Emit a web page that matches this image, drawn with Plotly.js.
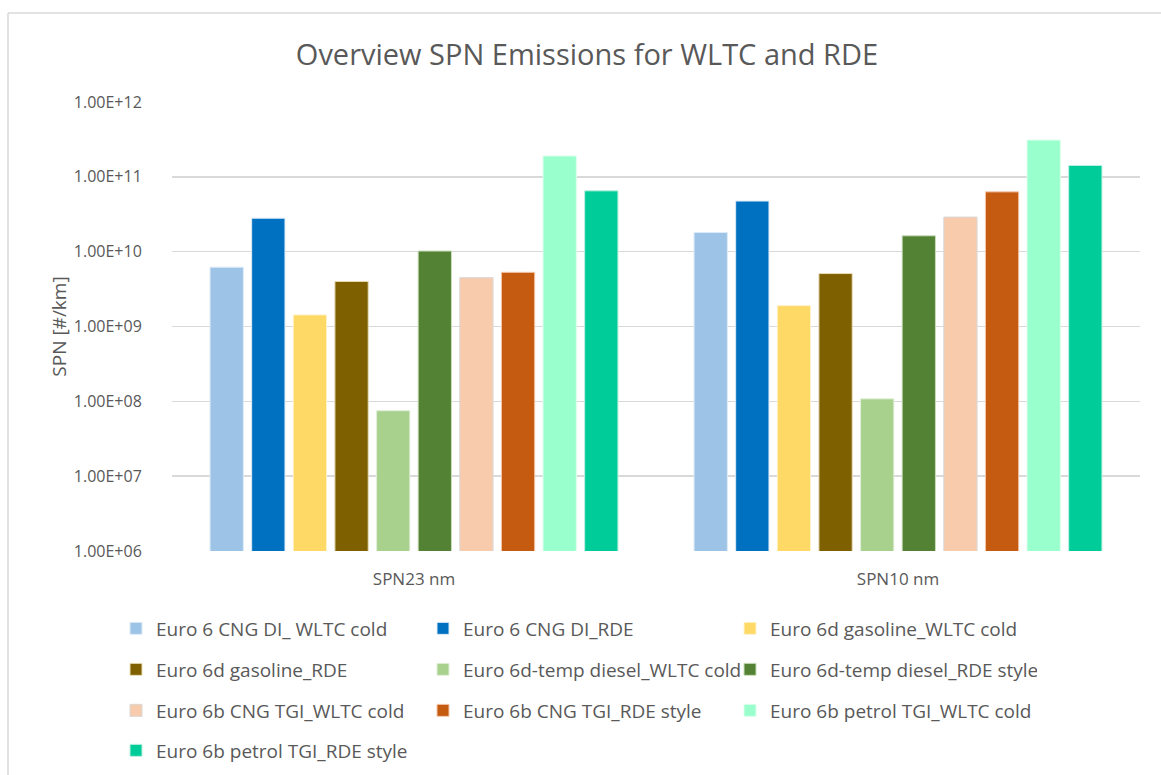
<!DOCTYPE html>
<html>
<head>
<meta charset="utf-8">
<script src="https://cdn.plot.ly/plotly-3.0.1.min.js"></script>
<style>html,body{margin:0;padding:0;background:#fff;}#chart{width:1161px;height:775px;}</style>
</head>
<body>
<div id="chart"></div>
<script>
const categories = ["SPN23 nm", "SPN10 nm"];
const seriesNames = [
  "Euro 6 CNG DI_ WLTC cold",
  "Euro 6 CNG DI_RDE",
  "Euro 6d gasoline_WLTC cold",
  "Euro 6d gasoline_RDE",
  "Euro 6d-temp diesel_WLTC cold",
  "Euro 6d-temp diesel_RDE style",
  "Euro 6b CNG TGI_WLTC cold",
  "Euro 6b CNG TGI_RDE style",
  "Euro 6b petrol TGI_WLTC cold",
  "Euro 6b petrol TGI_RDE style"
];
const cngDiWltc      = [6.2e9, 1.8e10];
const cngDiRde       = [2.8e10, 4.75e10];
const gasolineWltc   = [1.43e9, 1.9e9];
const gasolineRde    = [4.0e9, 5.1e9];
const dieselWltc     = [7.5e7, 1.08e8];
const dieselRde      = [1.02e10, 1.63e10];
const cngTgiWltc     = [4.5e9, 2.9e10];
const cngTgiRde      = [5.3e9, 6.3e10];
const petrolTgiWltc  = [1.9e11, 3.1e11];
const petrolTgiRde   = [6.5e10, 1.42e11];
const seriesValues = [cngDiWltc, cngDiRde, gasolineWltc, gasolineRde, dieselWltc,
                      dieselRde, cngTgiWltc, cngTgiRde, petrolTgiWltc, petrolTgiRde];
const colors = ["#9DC3E6", "#0070C0", "#FFD966", "#7F6000", "#A9D18E",
                "#548235", "#F8CBAD", "#C55A11", "#99FFCC", "#00CC99"];
const outlineColors = ["#DDEBF7", "#DDEBF7", "#FFF2CC", "#E8DDB8", "#E2EFDA",
                       "#C9DDBB", "#D9D9D9", "#F4C9AE", "#DDFFEE", "#BDF0E0"];
const tickVals = [1e6, 1e7, 1e8, 1e9, 1e10, 1e11, 1e12];
const tickText = ["1.00E+06", "1.00E+07", "1.00E+08", "1.00E+09", "1.00E+10", "1.00E+11", "1.00E+12"];

const FONT = "'Open Sans', 'Noto Sans', sans-serif";
const legendIds = ["legend", "legend2", "legend3", "legend4"];

const traces = seriesNames.map((name, i) => ({
  type: "bar",
  name: name,
  x: categories,
  y: seriesValues[i],
  marker: {color: colors[i], line: {color: outlineColors[i], width: 1}},
  legend: legendIds[Math.floor(i / 3)],
  hoverinfo: "x+y+name"
}));

const rowY = [628.5, 669.5, 710.5, 750.5];
const plotTop = 102, plotBottom = 551, plotLeft = 172, plotRight = 1140;
const ph = plotBottom - plotTop, pw = plotRight - plotLeft;
function py(p) { return (plotBottom - p) / ph; }
function px(p) { return (p - plotLeft) / pw; }

const layout = {
  width: 1161,
  height: 775,
  paper_bgcolor: "#ffffff",
  plot_bgcolor: "#ffffff",
  margin: {l: plotLeft, r: 1161 - plotRight, t: plotTop, b: 775 - plotBottom, pad: 0, autoexpand: false},
  font: {family: FONT, color: "#595959"},
  title: {
    text: "Overview SPN Emissions for WLTC and RDE",
    font: {family: FONT, size: 29, color: "#595959"},
    x: 587 / 1161, xanchor: "center", xref: "container",
    y: 1 - 55 / 775, yanchor: "middle", yref: "container"
  },
  barmode: "group",
  bargap: 0.14,
  bargroupgap: 0.2,
  xaxis: {
    type: "category",
    showgrid: false,
    showline: false,
    zeroline: false,
    ticks: "outside",
    ticklen: 13,
    tickcolor: "rgba(0,0,0,0)",
    tickfont: {family: FONT, size: 17, color: "#595959"}
  },
  yaxis: {
    type: "log",
    range: [6, 12],
    tickvals: tickVals,
    ticktext: tickText,
    showgrid: true,
    gridcolor: "#D9D9D9",
    gridwidth: 1.5,
    zeroline: false,
    showline: false,
    ticks: "outside",
    ticklen: 26,
    tickcolor: "rgba(0,0,0,0)",
    tickfont: {family: FONT, size: 16, color: "#595959"},
    title: {text: "SPN [#/km]", font: {family: FONT, size: 19, color: "#595959"}, standoff: 2}
  },
  shapes: [
    {type: "line", xref: "paper", yref: "paper", x0: px(8), x1: px(1161), y0: py(13), y1: py(13),
     line: {color: "#D9D9D9", width: 1.5}},
    {type: "line", xref: "paper", yref: "paper", x0: px(8), x1: px(8), y0: py(13), y1: py(775),
     line: {color: "#D9D9D9", width: 1.5}}
  ]
};

legendIds.forEach((id, r) => {
  layout[id] = {
    orientation: "h",
    x: px(116), xanchor: "left",
    y: py(rowY[r]), yanchor: "middle",
    entrywidth: 262, entrywidthmode: "pixels",
    itemwidth: 30,
    font: {family: FONT, size: 19, color: "#595959"},
    bgcolor: "rgba(0,0,0,0)",
    traceorder: "normal"
  };
});

Plotly.newPlot("chart", traces, layout, {displayModeBar: false, staticPlot: true});
</script>
</body>
</html>
